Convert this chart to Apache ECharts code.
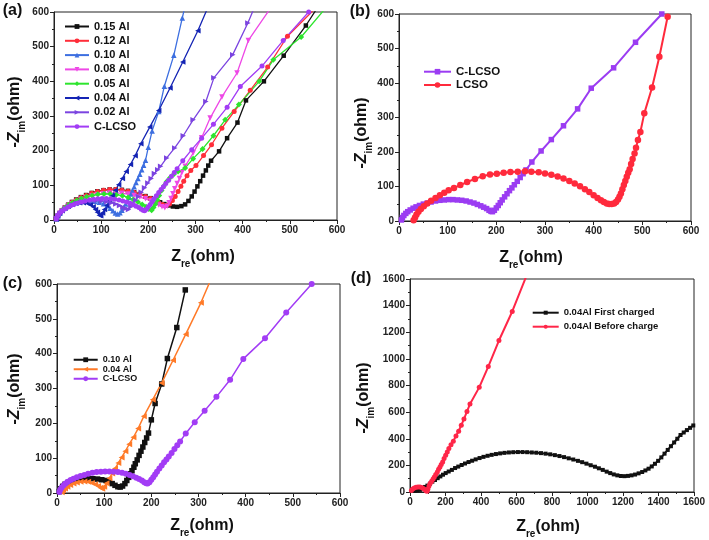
<!DOCTYPE html>
<html><head><meta charset="utf-8">
<script src="https://cdn.jsdelivr.net/npm/echarts@6/dist/echarts.min.js"></script>
<style>html,body{margin:0;padding:0;background:#fff}#c{width:709px;height:540px}</style>
</head><body><div id="c"></div>
<script>
// ---------- Panel (a) ----------
const A_015 = [[4,3],[8,12],[12,20],[17,28],[23,36],[30,44],[38,52],[47,59],[57,66],[68,72],[80,78],[92,83],[105,86],[118,88],[131,88],[144,87],[157,84],[170,80],[182,75],[194,69],[205,63],[215,57],[225,51],[234,46],[243,42],[252,39],[261,38],[270,40],[278,45],[285,55],[292,68],[298,82],[304,97],[310,112],[316,128],[322,143],[327,157],[333,171],[350,198],[367,236],[389,281],[407,345],[445,400],[487,474],[534,561],[555,605]];
const A_012 = [[4,3],[8,12],[12,20],[17,28],[23,36],[30,43],[38,51],[47,58],[57,65],[68,71],[80,77],[92,82],[105,86],[118,88],[131,88],[144,86],[157,83],[170,79],[182,74],[194,68],[205,62],[214,56],[222,50],[230,45],[238,42],[245,46],[251,56],[257,68],[263,82],[269,97],[275,112],[282,128],[290,143],[301,157],[317,186],[334,217],[356,265],[382,313],[416,374],[453,441],[495,530],[550,605]];
const A_010 = [[5,3],[8,12],[12,20],[17,28],[23,35],[30,41],[38,46],[47,50],[56,53],[66,55],[76,55],[86,54],[96,51],[105,47],[113,41],[119,34],[125,27],[130,20],[135,17],[140,21],[144,28],[148,37],[152,46],[156,56],[159,65],[163,75],[166,85],[170,96],[174,108],[178,120],[182,132],[186,145],[190,158],[194,172],[200,210],[208,257],[222,313],[234,386],[254,475],[272,583],[276,606]];
const A_008 = [[4,3],[8,11],[12,19],[17,26],[23,33],[30,40],[38,47],[47,53],[57,59],[68,64],[80,69],[92,73],[105,76],[118,78],[131,78],[144,77],[157,75],[170,71],[182,66],[194,61],[205,55],[214,49],[222,43],[229,38],[235,35],[240,40],[244,50],[248,62],[252,76],[256,90],[261,105],[266,120],[271,136],[278,155],[295,193],[313,237],[331,294],[356,355],[388,424],[412,518],[457,607]];
const A_005 = [[5,4],[9,13],[13,21],[18,29],[24,36],[31,43],[39,50],[48,56],[58,62],[69,67],[81,71],[93,74],[106,75],[119,75],[132,73],[145,70],[157,65],[168,59],[178,52],[187,45],[195,38],[201,32],[207,28],[211,36],[215,46],[219,58],[223,71],[228,85],[233,98],[239,111],[246,122],[254,132],[263,140],[278,150],[295,177],[315,205],[338,243],[363,289],[392,333],[435,400],[465,462],[524,528],[572,605]];
const A_004 = [[5,3],[8,12],[12,20],[17,27],[23,34],[30,40],[38,45],[46,48],[54,50],[62,50],[70,48],[77,44],[83,38],[88,30],[92,22],[96,14],[99,12],[103,20],[107,30],[112,42],[118,56],[124,70],[130,86],[137,102],[145,120],[153,140],[162,160],[172,185],[184,220],[203,268],[222,316],[246,381],[273,456],[305,546],[324,606]];
const A_002 = [[5,4],[9,12],[13,19],[18,26],[24,32],[31,38],[39,43],[48,48],[58,52],[68,54],[79,56],[90,56],[101,55],[112,53],[122,50],[131,46],[139,42],[146,37],[152,33],[158,30],[163,38],[168,47],[173,57],[179,68],[185,80],[192,93],[199,107],[206,120],[213,134],[220,145],[226,155],[239,179],[256,208],[274,243],[295,289],[322,342],[339,410],[379,477],[411,568],[423,607]];
// C-LCSO (used in a, b, c)
const CLCSO = [[5,3],[7,10],[10,16],[14,22],[18,27],[23,32],[29,37],[35,41],[42,45],[50,49],[58,52],[66,55],[75,58],[84,60],[93,61],[102,62],[111,62],[120,61],[129,60],[138,58],[146,55],[154,52],[161,48],[168,44],[174,40],[180,36],[185,31],[189,28],[192,27],[196,31],[200,38],[204,45],[208,53],[212,61],[217,70],[222,79],[227,88],[232,96],[237,105],[243,115],[249,126],[255,137],[261,148],[273,171],[292,203],[313,236],[338,276],[367,325],[395,385],[441,444],[486,518],[540,600]];
// ---------- Panel (b) ----------
const B_LCSO = [[30,2],[33,10],[36,19],[40,27],[45,35],[51,43],[58,51],[66,59],[75,67],[84,75],[93,82],[102,89],[113,96],[126,104],[140,113],[156,122],[172,130],[187,135],[201,137],[215,140],[229,142],[244,143],[259,144],[272,143],[287,141],[300,138],[313,134],[326,129],[338,123],[350,116],[361,109],[372,101],[382,92],[391,84],[400,75],[408,67],[415,60],[421,55],[427,51],[432,49],[437,49],[442,51],[446,55],[450,62],[453,70],[456,80],[459,92],[462,104],[465,116],[468,128],[471,140],[474,150],[477,165],[480,180],[484,196],[487,212],[491,235],[496,258],[504,312],[520,387],[535,476],[552,592]];
// ---------- Panel (c) ----------
const C_010 = [[5,4],[8,12],[12,19],[17,25],[23,30],[30,34],[38,37],[47,40],[56,42],[66,42],[76,41],[86,40],[95,38],[104,36],[111,32],[117,27],[123,22],[129,18],[134,17],[139,20],[144,27],[148,36],[152,45],[156,55],[159,64],[163,74],[166,84],[170,95],[174,108],[178,120],[182,132],[186,145],[190,158],[194,172],[200,210],[208,257],[222,313],[234,386],[254,475],[272,583]];
const C_004 = [[10,2],[13,8],[17,13],[22,18],[28,23],[35,27],[42,30],[50,32],[58,33],[66,32],[74,29],[81,25],[87,20],[92,15],[96,12],[100,18],[105,28],[111,42],[117,56],[123,70],[130,86],[137,102],[145,120],[153,140],[162,160],[172,185],[184,220],[203,268],[222,316],[246,381],[273,456],[305,546],[324,606]];
// ---------- Panel (d) ----------
const D_FIRST = [[15,8],[28,10],[42,12],[56,16],[70,27],[84,38],[98,48],[112,62],[126,78],[141,90],[156,104],[171,117],[186,130],[201,142],[218,154],[236,166],[254,180],[272,191],[291,203],[310,214],[330,225],[350,235],[370,245],[392,255],[414,264],[437,272],[460,279],[484,285],[508,290],[532,294],[557,297],[582,299],[608,300],[634,300],[660,299],[686,297],[712,295],[738,292],[764,288],[790,283],[816,277],[842,270],[868,262],[894,253],[920,244],[946,234],[970,224],[994,213],[1018,201],[1042,190],[1064,178],[1086,166],[1108,153],[1128,142],[1148,132],[1168,125],[1188,120],[1208,119],[1228,121],[1248,125],[1268,131],[1288,140],[1308,150],[1326,162],[1344,175],[1362,192],[1380,212],[1398,234],[1416,260],[1434,288],[1452,316],[1470,344],[1488,372],[1506,400],[1524,428],[1542,447],[1560,465],[1578,482],[1596,500]];
const D_BEFORE = [[8,12],[15,22],[24,30],[34,35],[45,38],[56,37],[66,33],[75,26],[83,18],[90,10],[96,6],[101,22],[107,45],[114,65],[122,80],[130,97],[137,113],[145,132],[154,151],[161,170],[169,188],[176,207],[184,226],[192,251],[201,276],[210,300],[219,327],[231,355],[244,382],[259,420],[274,457],[289,502],[304,548],[321,605],[338,661],[390,786],[441,942],[501,1138],[576,1356],[652,1610]];

const FONT = 'Liberation Sans, Arial, Helvetica, sans-serif';
const grids = [
  {left:54, top:12, width:283, height:208},
  {left:399, top:14, width:292, height:207},
  {left:57, top:284, width:283, height:209},
  {left:410, top:279, width:284, height:213}
];
const ranges = [[600,100],[600,100],[600,100],[1600,200]];

function axis(i){
  return {
    gridIndex:i, type:'value', min:0, max:ranges[i][0], interval:ranges[i][1],
    axisLine:{show:true, onZero:false, lineStyle:{color:'#222', width:1}},
    axisTick:{show:true, length:4, lineStyle:{color:'#222'}},
    minorTick:{show:true, splitNumber:2, length:2, lineStyle:{color:'#222'}},
    splitLine:{show:false},
    axisLabel:{fontFamily:FONT, fontWeight:'bold', fontSize:10, color:'#222', margin:5,
      formatter:function(v){return String(v);}}
  };
}

function ser(name, gi, data, color, symbol, size, rot, lw){
  return {
    name:name, type:'line', xAxisIndex:gi, yAxisIndex:gi, data:data,
    symbol:symbol, symbolSize:size, symbolRotate:rot||0,
    itemStyle:{color:color}, lineStyle:{color:color, width:lw},
    showSymbol:true, clip:true, animation:false
  };
}

const series = [
  ser('a|0.15 Al',0,A_015,'#111111','rect',4.5,0,1.3),
  ser('a|0.12 Al',0,A_012,'#ff2e3a','circle',5,0,1.3),
  ser('a|0.10 Al',0,A_010,'#3d6fe0','triangle',5.5,0,1.3),
  ser('a|0.08 Al',0,A_008,'#ee48e6','triangle',5.5,180,1.3),
  ser('a|0.05 Al',0,A_005,'#2ee52e','diamond',6,0,1.3),
  ser('a|0.04 Al',0,A_004,'#1424b4','triangle',5.5,90,1.3),
  ser('a|0.02 Al',0,A_002,'#7b44e0','triangle',5.5,-90,1.3),
  ser('a|C-LCSO',0,CLCSO,'#a23cf5','circle',5,0,1.3),
  ser('b|C-LCSO',1,CLCSO,'#9b3cf2','rect',5.5,0,2),
  ser('b|LCSO',1,B_LCSO,'#ff2a3c','circle',6.5,0,2),
  ser('c|0.10 Al',2,C_010,'#111111','rect',5.5,0,1.5),
  ser('c|0.04 Al',2,C_004,'#ff7a28','triangle',6,90,1.5),
  ser('c|C-LCSO',2,CLCSO,'#a23cf5','circle',6,0,1.5),
  ser('d|0.04Al First charged',3,D_FIRST,'#111111','rect',4,0,2),
  ser('d|0.04Al Before charge',3,D_BEFORE,'#ff2648','circle',5,0,2)
];

function legend(left, top, names, fs, lh, gap, iw, ih){
  return {
    left:left, top:top, orient:'vertical', padding:0, itemGap:gap,
    itemWidth:iw, itemHeight:ih, selectedMode:false, data:names,
    formatter:function(n){return n.split('|')[1];},
    textStyle:{fontFamily:FONT, fontWeight:'bold', fontSize:fs, lineHeight:lh, color:'#111'}
  };
}

function xName(x, y){
  return {type:'text', x:x, y:y, style:{
    text:'{z|Z}{s|re}{z|(ohm)}', textAlign:'center', textVerticalAlign:'middle', fill:'#111',
    rich:{z:{fontFamily:FONT, fontWeight:'bold', fontSize:16, lineHeight:20},
          s:{fontFamily:FONT, fontWeight:'bold', fontSize:10, lineHeight:10, padding:[14,0,0,0]}}
  }};
}
function yName(x, y){
  return {type:'text', x:x, y:y, rotation:Math.PI/2, style:{
    text:'{z|-}{zi|Z}{s|im}{z|(ohm)}', textAlign:'center', textVerticalAlign:'middle', fill:'#111',
    rich:{z:{fontFamily:FONT, fontWeight:'bold', fontSize:16, lineHeight:20},
          zi:{fontFamily:FONT, fontWeight:'bold', fontStyle:'italic', fontSize:16, lineHeight:20},
          s:{fontFamily:FONT, fontWeight:'bold', fontSize:10, lineHeight:10, padding:[14,0,0,0]}}
  }};
}
function pLabel(x, y, t){
  return {type:'text', x:x, y:y, style:{text:t, font:'bold 16px '+FONT, fill:'#111', textAlign:'center', textVerticalAlign:'middle'}};
}

const option = {
  backgroundColor:'#fff',
  animation:false,
  grid: grids.map(g => Object.assign({show:true, borderColor:'#222', borderWidth:1, backgroundColor:'transparent'}, g)),
  xAxis: [0,1,2,3].map(axis),
  yAxis: [0,1,2,3].map(axis),
  legend: [
    legend(64, 20.5, ['a|0.15 Al','a|0.12 Al','a|0.10 Al','a|0.08 Al','a|0.05 Al','a|0.04 Al','a|0.02 Al','a|C-LCSO'], 11, 12, 2.3, 24, 6),
    legend(423, 65.7, ['b|C-LCSO','b|LCSO'], 11.5, 12, 1.3, 27, 7),
    legend(72.7, 355, ['c|0.10 Al','c|0.04 Al','c|C-LCSO'], 9, 9.5, 0, 24, 6),
    legend(531.7, 307.2, ['d|0.04Al First charged','d|0.04Al Before charge'], 9.5, 11, 3, 26, 5)
  ],
  graphic: [
    pLabel(12.5, 11, '(a)'), pLabel(360, 12, '(b)'), pLabel(12.5, 284, '(c)'), pLabel(361, 279, '(d)'),
    xName(203, 257), xName(531, 258), xName(202, 526), xName(548, 527),
    yName(15, 112), yName(362, 133), yName(15, 389), yName(364, 398)
  ],
  series: series
};
const chart = echarts.init(document.getElementById('c'), null, {renderer:'canvas'});
chart.setOption(option);
</script></body></html>
